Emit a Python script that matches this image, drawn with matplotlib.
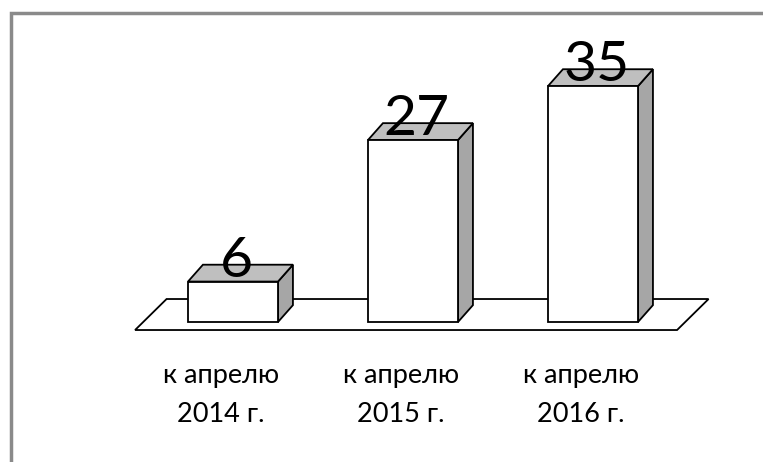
import matplotlib
matplotlib.use('Agg')
import matplotlib.pyplot as plt
from matplotlib.patches import Polygon, Rectangle

categories = ["к апрелю\n2014 г.", "к апрелю\n2015 г.", "к апрелю\n2016 г."]
values = [6, 27, 35]

plt.rcParams['font.family'] = ['Lato', 'DejaVu Sans']

fig = plt.figure(figsize=(7.63, 4.62), dpi=100)
ax = fig.add_axes([0, 0, 1, 1])
ax.set_xlim(-1.2944, 2.9444)
ax.set_ylim(-20.77, 47.77)
ax.axis('off')

# рамка диаграммы
fig.patches.append(Rectangle((11 / 763, -0.1), 1.2, (462 - 13) / 462 + 0.1,
                             transform=fig.transFigure, fill=False,
                             edgecolor='#8a8a8a', linewidth=2.5))

# пол (псевдо-3D)
n = len(values)
fx0, fx1 = -0.544, n - 1 + 0.467
fy0, fdx, fdy = -1.19, 0.175, 4.6
ax.add_patch(Polygon([(fx0, fy0), (fx1, fy0), (fx1 + fdx, fy0 + fdy), (fx0 + fdx, fy0 + fdy)],
                     closed=True, facecolor='white', edgecolor='black', linewidth=1.3, zorder=1))

w = 0.5
dx, dy = 0.083, 2.5
for i, v in enumerate(values):
    l, r = i - w / 2, i + w / 2
    # боковая грань
    ax.add_patch(Polygon([(r, 0), (r + dx, dy), (r + dx, v + dy), (r, v)],
                         closed=True, facecolor='#a6a6a6', edgecolor='black', linewidth=1.3, zorder=2))
    # верхняя грань
    ax.add_patch(Polygon([(l, v), (r, v), (r + dx, v + dy), (l + dx, v + dy)],
                         closed=True, facecolor='#bfbfbf', edgecolor='black', linewidth=1.3, zorder=2))
    # передняя грань
    ax.add_patch(Rectangle((l, 0), w, v, facecolor='white', edgecolor='black', linewidth=1.3, zorder=3))
    ax.text(i + 0.02, v + 0.7, str(v), ha='center', va='baseline', fontsize=41, zorder=4)
    # подписи категорий, по строкам
    for k, line in enumerate(categories[i].split("\n")):
        ax.text(i - 0.067, -9.05 - 5.8 * k, line, ha='center', va='baseline',
                fontsize=19.5, zorder=4)

fig.savefig('out.png', dpi=100, facecolor='white')
